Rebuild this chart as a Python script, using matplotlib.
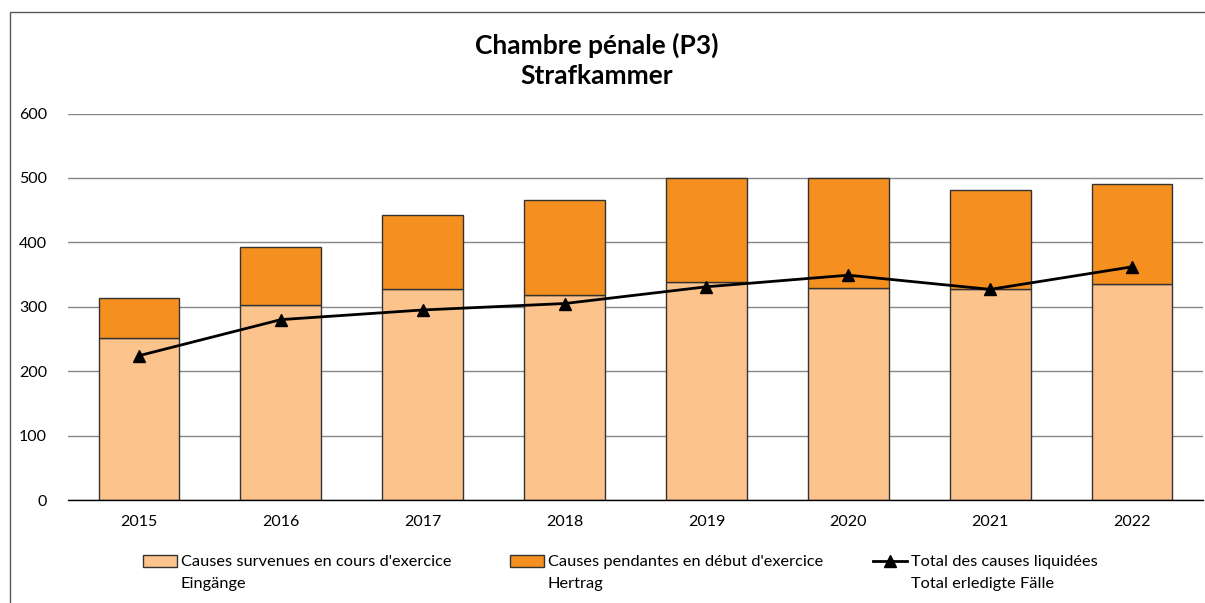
import matplotlib
matplotlib.use("Agg")
import matplotlib.pyplot as plt
from matplotlib.patches import Rectangle, Patch
from matplotlib.lines import Line2D
import numpy as np

plt.rcParams['font.family'] = ['Lato', 'DejaVu Sans']

# donnees
years = ['2015', '2016', '2017', '2018', '2019', '2020', '2021', '2022']
incoming = [252, 302, 328, 319, 339, 329, 328, 335]     # Eingänge
pending = [62, 91, 114, 146, 161, 171, 153, 155]        # Hertrag
liquidated = [224, 280, 295, 305, 331, 349, 327, 362]   # Total erledigte Fälle

light_orange = '#FCC48C'
orange = '#F58F1F'

W, H = 1205, 603
fig = plt.figure(figsize=(W / 100, H / 100), dpi=100)
ax = fig.add_axes([68 / W, 103 / H, 1135 / W, 386.5 / H])

x = np.arange(len(years))
ax.bar(x, incoming, width=0.57, color=light_orange, edgecolor='#333333',
       linewidth=1, zorder=2)
ax.bar(x, pending, width=0.57, bottom=incoming, color=orange,
       edgecolor='#333333', linewidth=1, zorder=2)
ax.plot(x, liquidated, color='black', linewidth=2, marker='^',
        markersize=9, zorder=3)

ax.set_xlim(-0.5, len(years) - 0.5)
ax.set_ylim(0, 600)
ax.set_yticks(range(0, 601, 100))
ax.set_xticks(x)
ax.set_xticklabels(years)
ax.tick_params(axis='both', length=0, labelsize=11.5)
ax.tick_params(axis='y', pad=15)
ax.tick_params(axis='x', pad=11)
ax.yaxis.grid(True, color='#868686', linewidth=1, zorder=0)
ax.set_axisbelow(True)
for s in ['left', 'right', 'top']:
    ax.spines[s].set_visible(False)
ax.spines['bottom'].set_color('black')
ax.spines['bottom'].set_linewidth(1)

fig.text(597 / W, 1 - 45 / H, 'Chambre pénale (P3)', ha='center', va='center',
         fontsize=19, fontweight='bold')
fig.text(597 / W, 1 - 76 / H, 'Strafkammer', ha='center', va='center',
         fontsize=19, fontweight='bold')

# cadre du graphique
fig.patches.append(Rectangle((10 / W, -0.1), 1.2, 1 - 12 / H + 0.1,
                             transform=fig.transFigure, fill=False,
                             edgecolor='#595959', linewidth=1))

# legende : une legende par entree, deuxieme ligne en texte
entries = [
    (Patch(facecolor=light_orange, edgecolor='#333333'),
     "Causes survenues en cours d'exercice", 'Eingänge', 143),
    (Patch(facecolor=orange, edgecolor='#333333'),
     "Causes pendantes en début d'exercice", 'Hertrag', 510),
    (Line2D([], [], color='black', linewidth=2, marker='^', markersize=9),
     'Total des causes liquidées', 'Total erledigte Fälle', 873),
]
legends = []
for handle, line1, line2, xpos in entries:
    leg = fig.legend([handle], [line1], loc='center left',
                     bbox_to_anchor=(xpos / W, 1 - 562 / H), frameon=False,
                     fontsize=11.8, handlelength=2.1, handleheight=0.8,
                     handletextpad=0.2, borderpad=0, borderaxespad=0)
    legends.append((leg, line2))

fig.canvas.draw()
inv = fig.transFigure.inverted()
for leg, line2 in legends:
    bb = leg.get_texts()[0].get_window_extent()
    x0 = inv.transform((bb.x0, 0))[0]
    fig.text(x0, 1 - 584 / H, line2, ha='left', va='center', fontsize=11.8)

fig.savefig('out.png', dpi=100)
